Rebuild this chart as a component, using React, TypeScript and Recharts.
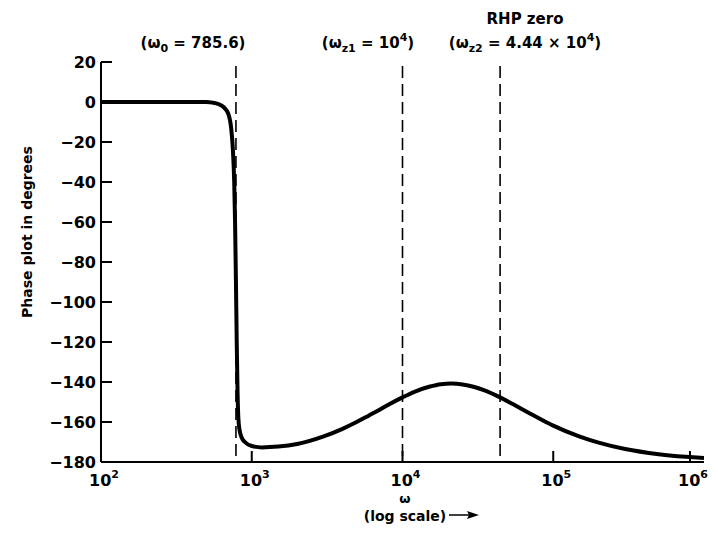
import { LineChart, Line, XAxis, YAxis, ReferenceLine } from "recharts";

// phase, omega in rad/s
const omega = [
  100, 200, 300, 400, 500, 550, 600, 650, 700, 730, 750, 765, 775, 785.6, 795, 805, 815, 830, 860, 900,
  1000, 1165, 1500, 2000, 3000, 4000, 5000, 6000, 7000, 8000, 10000, 12000, 15000, 18000, 21000, 25000,
  30000, 35000, 44400, 55000, 70000, 85000, 100000, 150000, 200000, 300000, 500000, 1000000,
];
const phase = [
  0, 0, 0, 0, 0, -0.3, -1, -2.5, -6, -13, -24, -40, -60, -90, -120, -145, -158, -164, -168, -170,
  -172, -172.7, -172.3, -171, -167.2, -163.4, -159.9, -156.7, -154, -151.5, -147.7, -144.9, -142.4,
  -141.1, -140.8, -141.2, -142.5, -144.2, -147.7, -151.4, -155.7, -159.1, -161.8, -167.3, -170.3,
  -173.5, -176.1, -178,
];
const xTicks = [100, 1000, 10000, 100000, 1000000];
const yTicks = [20, 0, -20, -40, -60, -80, -100, -120, -140, -160, -180];
const markers = [785.6, 10000, 44400];

const data = omega.map((w, i) => ({ w, p: phase[i] }));

const FONT = "'DejaVu Sans', sans-serif";
const txt = { fontFamily: FONT, fontWeight: 700, fill: "#000" };

function XTick({ x, y, payload }: any) {
  const exp = Math.round(Math.log10(payload.value));
  return (
    <g>
      <line x1={x} y1={y} x2={x} y2={y - 11} stroke="#000" strokeWidth={2} />
      <text x={x + 3} y={y + 24} textAnchor="middle" fontSize={16} {...txt}>
        10
        <tspan dy={-8} fontSize={11}>
          {exp}
        </tspan>
      </text>
    </g>
  );
}

function YTick({ x, y, payload }: any) {
  const v = payload.value;
  const label = v < 0 ? "\u2212" + Math.abs(v) : String(v);
  return (
    <g>
      <line x1={x} y1={y} x2={x + 11} y2={y} stroke="#000" strokeWidth={2} />
      <text x={x - 5} y={y + 6} textAnchor="end" fontSize={16} {...txt}>
        {label}
      </text>
    </g>
  );
}

function DashShape({ x1, y1, y2 }: any) {
  return <line x1={x1} y1={y1 - 6} x2={x1} y2={y2} stroke="#000" strokeWidth={1.6} strokeDasharray="12 6" />;
}

const sub = (s: string) => (
  <tspan dy={4} fontSize={11}>
    {s}
  </tspan>
);
const sup = (s: string) => (
  <tspan dy={-7} fontSize={11}>
    {s}
  </tspan>
);

export default function App() {
  return (
    <div style={{ position: "absolute", left: 0, top: 0, background: "#fff" }}>
      <LineChart width={718} height={533} data={data} margin={{ top: 62, right: 14, bottom: 0, left: 0 }}>
        <XAxis
          dataKey="w"
          type="number"
          scale="log"
          domain={[100, 1000000]}
          ticks={xTicks}
          tick={<XTick />}
          tickSize={0}
          tickMargin={0}
          height={71}
          stroke="#000"
          strokeWidth={2}
          tickLine={false}
          allowDataOverflow
        />
        <YAxis
          type="number"
          domain={[-180, 20]}
          ticks={yTicks}
          tick={<YTick />}
          tickSize={0}
          tickMargin={0}
          width={101}
          stroke="#000"
          strokeWidth={2}
          tickLine={false}
          interval={0}
        />
        {markers.map((m) => (
          <ReferenceLine key={m} x={m} shape={<DashShape />} ifOverflow="visible" />
        ))}
        <Line
          dataKey="p"
          type="monotone"
          stroke="#000"
          strokeWidth={4}
          dot={false}
          isAnimationActive={false}
        />
        <text x={193} y={48} textAnchor="middle" fontSize={15} {...txt}>
          (ω{sub("0")}
          <tspan dy={-4}> = 785.6)</tspan>
        </text>
        <text x={368} y={48} textAnchor="middle" fontSize={15} {...txt}>
          (ω{sub("z1")}
          <tspan dy={-4}> = 10</tspan>
          {sup("4")}
          <tspan dy={7}>)</tspan>
        </text>
        <text x={525} y={24} textAnchor="middle" fontSize={15} {...txt}>
          RHP zero
        </text>
        <text x={525} y={48} textAnchor="middle" fontSize={15} {...txt}>
          (ω{sub("z2")}
          <tspan dy={-4}> = 4.44 × 10</tspan>
          {sup("4")}
          <tspan dy={7}>)</tspan>
        </text>
        <text
          x={32}
          y={232}
          transform="rotate(-90 32 232)"
          textAnchor="middle"
          fontSize={14}
          {...txt}
        >
          Phase plot in degrees
        </text>
        <text x={405} y={503} textAnchor="middle" fontSize={13} {...txt}>
          ω
        </text>
        <text x={405} y={521} textAnchor="middle" fontSize={14} {...txt}>
          (log scale)
        </text>
        <line x1={449} y1={515} x2={472} y2={515} stroke="#000" strokeWidth={1.5} />
        <path d="M479 515 L467 511 L469 515 L467 519 Z" fill="#000" />
      </LineChart>
    </div>
  );
}
